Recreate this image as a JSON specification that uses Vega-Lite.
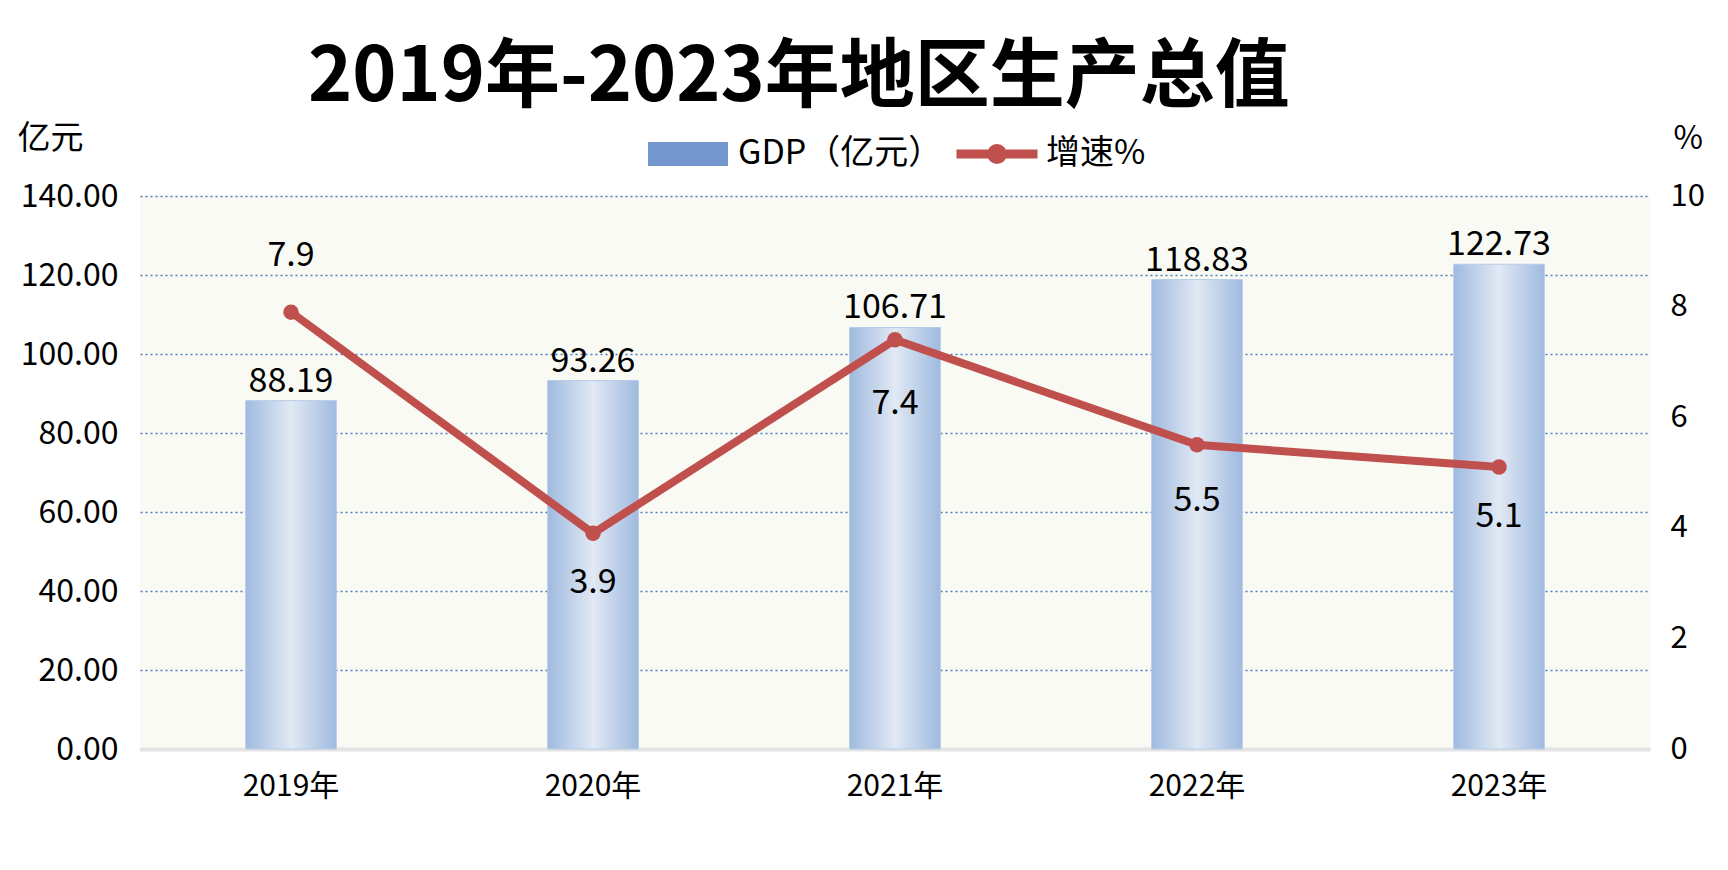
{
  "$schema": "https://vega.github.io/schema/vega-lite/v6.json",
  "width": 1510,
  "height": 553,
  "autosize": {"type": "none"},
  "padding": {"left": 140, "top": 196, "right": 78, "bottom": 121},
  "background": "#ffffff",
  "title": {
    "text": "2019年-2023年地区生产总值",
    "font": "Noto Sans CJK SC",
    "fontSize": 75,
    "fontWeight": "bold",
    "color": "#000000",
    "anchor": "start",
    "frame": "group",
    "dx": 168,
    "offset": -8
  },
  "data": {
    "values": [
      {"year": "2019年", "gdp": 88.19, "rate": 7.9},
      {"year": "2020年", "gdp": 93.26, "rate": 3.9},
      {"year": "2021年", "gdp": 106.71, "rate": 7.4},
      {"year": "2022年", "gdp": 118.83, "rate": 5.5},
      {"year": "2023年", "gdp": 122.73, "rate": 5.1}
    ]
  },
  "config": {
    "font": "Noto Sans CJK SC",
    "view": {"fill": "#fafaf5", "stroke": null},
    "axis": {
      "labelFont": "Noto Sans CJK SC",
      "labelColor": "#000000",
      "titleFont": "Noto Sans CJK SC",
      "titleColor": "#000000",
      "titleFontWeight": "normal",
      "ticks": false,
      "tickSize": 0,
      "domain": false,
      "grid": false
    }
  },
  "layer": [
    {
      "layer": [
        {
          "mark": {
            "type": "bar",
            "color": {
              "gradient": "linear",
              "x1": 0, "x2": 1, "y1": 0, "y2": 0,
              "stops": [
                {"offset": 0, "color": "#9fbadf"},
                {"offset": 0.5, "color": "#e1e9f4"},
                {"offset": 1, "color": "#9fbadf"}
              ]
            },
            "stroke": "#b6cbe6",
            "strokeWidth": 1
          },
          "encoding": {
            "x": {
              "field": "year",
              "type": "nominal",
              "sort": null,
              "scale": {"paddingInner": 0.7, "paddingOuter": 0.35},
              "axis": {
                "title": null,
                "labelAngle": 0,
                "labelFontSize": 30,
                "labelPadding": 22,
                "domain": true,
                "domainColor": "#e4e4e4",
                "domainWidth": 4
              }
            },
            "y": {
              "field": "gdp",
              "type": "quantitative",
              "scale": {"domain": [0, 140]},
              "axis": {
                "title": "亿元",
                "titleAngle": 0,
                "titleX": -123,
                "titleY": -58,
                "titleAlign": "left",
                "titleBaseline": "middle",
                "titleFontSize": 33,
                "labelFontSize": 32,
                "labelPadding": 22,
                "values": [0, 20, 40, 60, 80, 100, 120, 140],
                "format": ".2f",
                "grid": true,
                "gridColor": "#4a7ebb",
                "gridDash": [2, 3],
                "gridWidth": 1.5
              }
            }
          }
        },
        {
          "transform": [{"filter": "false"}],
          "mark": "bar",
          "encoding": {
            "x": {"field": "year", "type": "nominal", "sort": null},
            "y": {"field": "gdp", "type": "quantitative"},
            "fill": {
              "datum": "GDP（亿元）",
              "scale": {"range": ["#7496cf"]},
              "legend": {
                "title": null,
                "orient": "none",
                "legendX": 508,
                "legendY": -82,
                "padding": 0,
                "symbolType": "M-1,-0.3H1V0.3H-1Z",
                "symbolSize": 6400,
                "symbolStrokeWidth": 0,
                "labelFont": "Noto Sans CJK SC",
                "labelFontSize": 34,
                "labelColor": "#000000",
                "labelOffset": 10,
                "labelLimit": 400
              }
            }
          }
        },
        {
          "mark": {"type": "text", "fontSize": 34, "baseline": "alphabetic", "dy": -9, "color": "#000000"},
          "encoding": {
            "x": {"field": "year", "type": "nominal", "sort": null},
            "y": {"field": "gdp", "type": "quantitative"},
            "text": {"field": "gdp", "type": "quantitative", "format": ".2f"}
          }
        }
      ]
    },
    {
      "layer": [
        {
          "mark": {
            "type": "line",
            "strokeWidth": 8,
            "point": {"filled": true, "size": 240}
          },
          "encoding": {
            "x": {"field": "year", "type": "nominal", "sort": null},
            "y": {
              "field": "rate",
              "type": "quantitative",
              "scale": {"domain": [0, 10]},
              "axis": {
                "orient": "right",
                "title": "%",
                "titleAngle": 0,
                "titleX": 23,
                "titleY": -58,
                "titleAlign": "left",
                "titleBaseline": "middle",
                "titleFontSize": 32,
                "labelFontSize": 31,
                "labelPadding": 20,
                "values": [0, 2, 4, 6, 8, 10]
              }
            },
            "color": {
              "datum": "增速%",
              "scale": {"range": ["#c0504d"]},
              "legend": {
                "title": null,
                "orient": "none",
                "legendX": 812,
                "legendY": -87,
                "padding": 0,
                "symbolType": "M-1,0H1M0.136,0A0.136,0.136 0 1,1 -0.136,0A0.136,0.136 0 1,1 0.136,0",
                "symbolSize": 6561,
                "symbolStrokeWidth": 9,
                "symbolFillColor": "#c0504d",
                "labelFont": "Noto Sans CJK SC",
                "labelFontSize": 34,
                "labelColor": "#000000",
                "labelOffset": 4,
                "labelLimit": 400
              }
            }
          }
        },
        {
          "transform": [{"filter": "datum.year == '2019年'"}],
          "mark": {"type": "text", "fontSize": 34, "baseline": "middle", "dy": -56, "color": "#000000"},
          "encoding": {
            "x": {"field": "year", "type": "nominal", "sort": null},
            "y": {"field": "rate", "type": "quantitative"},
            "text": {"field": "rate", "type": "quantitative", "format": ".1f"}
          }
        },
        {
          "transform": [{"filter": "datum.year == '2021年'"}],
          "mark": {"type": "text", "fontSize": 34, "baseline": "middle", "dy": 64, "color": "#000000"},
          "encoding": {
            "x": {"field": "year", "type": "nominal", "sort": null},
            "y": {"field": "rate", "type": "quantitative"},
            "text": {"field": "rate", "type": "quantitative", "format": ".1f"}
          }
        },
        {
          "transform": [{"filter": "datum.year == '2022年'"}],
          "mark": {"type": "text", "fontSize": 34, "baseline": "middle", "dy": 56, "color": "#000000"},
          "encoding": {
            "x": {"field": "year", "type": "nominal", "sort": null},
            "y": {"field": "rate", "type": "quantitative"},
            "text": {"field": "rate", "type": "quantitative", "format": ".1f"}
          }
        },
        {
          "transform": [{"filter": "datum.year == '2020年' || datum.year == '2023年'"}],
          "mark": {"type": "text", "fontSize": 34, "baseline": "middle", "dy": 50, "color": "#000000"},
          "encoding": {
            "x": {"field": "year", "type": "nominal", "sort": null},
            "y": {"field": "rate", "type": "quantitative"},
            "text": {"field": "rate", "type": "quantitative", "format": ".1f"}
          }
        }
      ]
    }
  ],
  "resolve": {"scale": {"y": "independent"}}
}
